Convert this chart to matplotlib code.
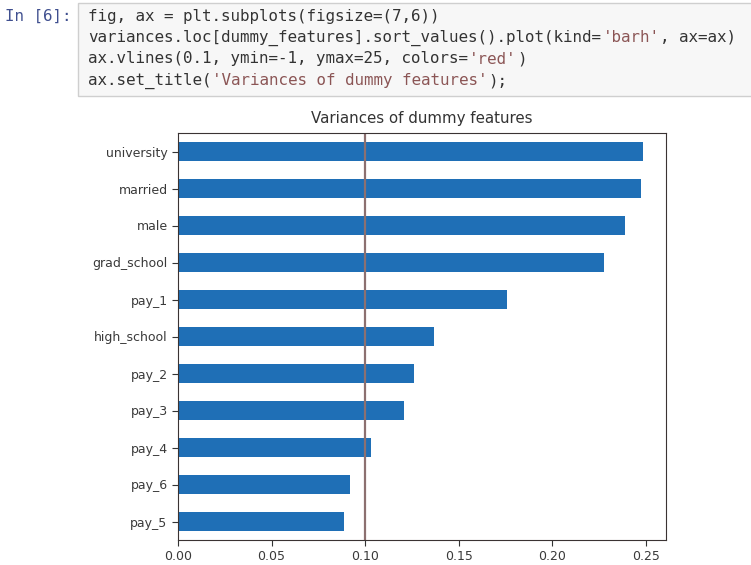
import numpy as np
import matplotlib
matplotlib.use("Agg")
import matplotlib.pyplot as plt
from matplotlib.patches import Rectangle

# variances of the dummy features, sorted ascending (bottom to top)
features = ["pay_5", "pay_6", "pay_4", "pay_3", "pay_2", "high_school",
            "pay_1", "grad_school", "male", "married", "university"]
variances = [0.0885, 0.0919, 0.1033, 0.1206, 0.1260, 0.1367,
             0.1756, 0.2277, 0.2389, 0.2477, 0.2484]
threshold = 0.1

# notebook cell text: list of (text, is_string) segments per line
code_lines = [
    [("fig, ax = plt.subplots(figsize=(7,6))", False)],
    [("variances.loc[dummy_features].sort_values().plot(kind=", False),
     ("'barh'", True), (", ax=ax)", False)],
    [("ax.vlines(0.1, ymin=-1, ymax=25, colors=", False),
     ("'red'", True), (")", False)],
    [("ax.set_title(", False), ("'Variances of dummy features'", True),
     (");", False)],
]

W, H = 751, 565
fig = plt.figure(figsize=(W / 100, H / 100), dpi=100)


def fx(x):
    return x / W


def fy(y):
    return 1 - y / H


# code cell box
fig.patches.append(Rectangle((fx(78), fy(96)), fx(760) - fx(78), fy(3) - fy(96),
                             transform=fig.transFigure, facecolor="#f7f7f7",
                             edgecolor="#cfcfcf", lw=1))
fig.text(fx(5), fy(16), "In [6]:", family="DejaVu Sans Mono", fontsize=11.4,
         color="#3f4f8f", va="center")

char_w = 9.53
line_y = [16, 37.5, 59, 80.5]
for yy, segs in zip(line_y, code_lines):
    col = 0
    for txt, is_str in segs:
        fig.text(fx(88 + col * char_w), fy(yy), txt, family="DejaVu Sans Mono",
                 fontsize=11.4, color="#8b5555" if is_str else "#333333",
                 va="center")
        col += len(txt)

# the chart
ax = fig.add_axes([fx(178), fy(540), fx(666) - fx(178), fy(133) - fy(540)])
y = np.arange(len(features))
ax.barh(y, variances, height=0.5, color="#1f6fb6")
ax.set_ylim(-0.5, len(features) - 0.5)
ax.set_xlim(0, max(variances) * 1.05)
ax.vlines(threshold, ymin=-1, ymax=25, colors="#8c7070", lw=1.6)
ax.set_yticks(y)
ax.set_yticklabels(features)
ax.set_xticks([0.0, 0.05, 0.10, 0.15, 0.20, 0.25])
ax.set_xticklabels(["0.00", "0.05", "0.10", "0.15", "0.20", "0.25"])
ax.tick_params(labelsize=9, colors="#333333", length=4, labelcolor="#3a3a3a")
for s in ax.spines.values():
    s.set_color("#3a3333")
ax.set_title("Variances of dummy features", fontsize=10.8, color="#333333", pad=7)

fig.savefig("out.png", dpi=100)
